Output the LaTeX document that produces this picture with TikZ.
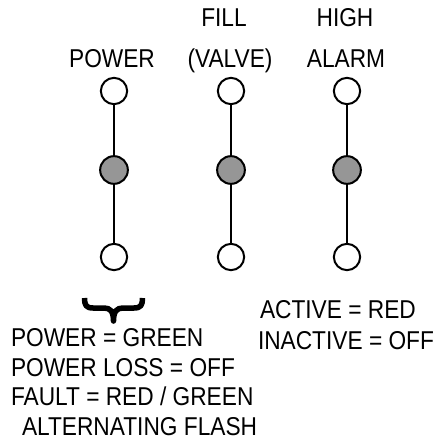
\documentclass[tikz,border=0pt]{standalone}
\usepackage{fontspec}
\setmainfont[FakeStretch=0.88]{Liberation Sans}
\definecolor{ledgray}{RGB}{150,150,150}
\tikzset{
  lamp/.style={circle,draw,line width=2pt,minimum size=26.3pt,inner sep=0pt,fill=white},
  lampon/.style={lamp,fill=ledgray,minimum size=27.7pt},
  txt/.style={inner sep=0pt,font=\fontsize{25.8}{30}\selectfont}
}

\begin{document}
\begin{tikzpicture}[x=1pt,y=-1pt,line width=2pt]
  \useasboundingbox (0,0) rectangle (437,439);
  % three columns of lamps
  \foreach \n/\x in {pw/114,fv/231,ha/347}{
    \node [lamp] (\n1) at (\x,91) {};
    \node [lampon] (\n2) at (\x,170) {};
    \node [lamp] (\n3) at (\x,257) {};
    \draw (\n1) -- (\n2) -- (\n3);
  }
  % headings
  \node [txt,anchor=base] (pwA) at (112,67) {POWER};
  \node [txt,anchor=base] (fvA) at (224,27) {FILL};
  \node [txt,anchor=base] (fvB) at (230,67) {(VALVE)};
  \node [txt,anchor=base] (haA) at (345,27) {HIGH};
  \node [txt,anchor=base] (haB) at (346,67) {ALARM};
  % brace
  \coordinate (brL) at (84.5,298);
  \coordinate (brT) at (113.5,321);
  \coordinate (brR) at (142.5,298);
  \draw [line width=5.5pt,line join=round]
    (brL) .. controls (84.5,305) and (86,308) .. (93,308) -- (104,308)
          .. controls (110,308) and (113.5,311) .. (brT)
          .. controls (113.5,311) and (117,308) .. (123,308) -- (134,308)
          .. controls (141,308) and (142.5,305) .. (brR);
  % legends
  \node [txt,anchor=base west] (lgA) at (10,346) {POWER = GREEN};
  \node [txt,anchor=base west] (lgB) at (10,376) {POWER LOSS = OFF};
  \node [txt,anchor=base west] (lgC) at (10,405) {FAULT = RED / GREEN};
  \node [txt,anchor=base west] (lgD) at (21,435) {ALTERNATING FLASH};
  \node [txt,anchor=base west] (lgE) at (259,318) {ACTIVE = RED};
  \node [txt,anchor=base west] (lgF) at (257,349) {INACTIVE = OFF};
\end{tikzpicture}
\end{document}
